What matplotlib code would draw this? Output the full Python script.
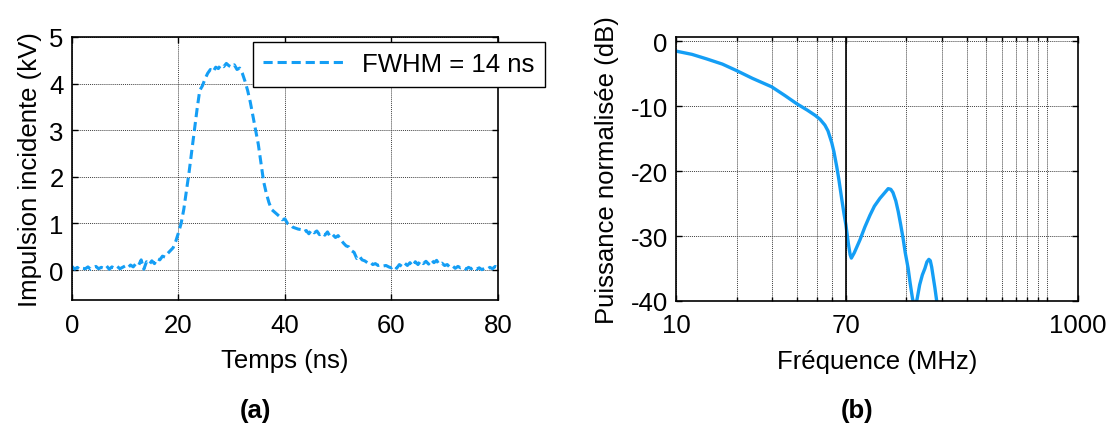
import numpy as np
import matplotlib.pyplot as plt

plt.rcParams['font.family'] = ['Liberation Sans', 'DejaVu Sans']
plt.rcParams['axes.unicode_minus'] = False

# --- (a) impulsion incidente, échantillons toutes les 0.5 ns ---
pulse_kv = [
    0.08, 0.02, 0.06, 0.01, 0.04, 0.03, 0.07, 0.02, 0.05, 0.08, 0.03,
    0.06, 0.04, 0.09, 0.02, 0.07, 0.04, 0.08, 0.03, 0.06, 0.09,
    0.05, 0.11, 0.07, 0.14, 0.10, 0.22, 0.02, 0.18, 0.12, 0.20,
    0.14, 0.25, 0.22, 0.30, 0.28, 0.36, 0.42, 0.48, 0.62, 0.80,
    1.00, 1.30, 1.70, 2.10, 2.55, 3.00, 3.45, 3.85, 3.95, 4.10,
    4.22, 4.30, 4.25, 4.35, 4.32, 4.40, 4.36, 4.43, 4.38, 4.35,
    4.40, 4.30, 4.33, 4.22, 4.05, 3.85, 3.60, 3.30, 3.00, 2.70,
    2.30, 1.90, 1.65, 1.45, 1.30, 1.25, 1.20, 1.15, 1.08, 1.10,
    1.00, 0.98, 0.92, 0.90, 0.88, 0.87, 0.82, 0.85, 0.78, 0.86,
    0.80, 0.84, 0.76, 0.80, 0.75, 0.82, 0.72, 0.76, 0.70, 0.74,
    0.65, 0.58, 0.52, 0.50, 0.42, 0.38, 0.25, 0.30, 0.22, 0.20,
    0.16, 0.18, 0.12, 0.14, 0.10, 0.12, 0.09, 0.10, 0.07, 0.05,
    0.10, 0.04, 0.12, 0.08, 0.15, 0.10, 0.16, 0.09, 0.18, 0.12,
    0.20, 0.14, 0.19, 0.13, 0.22, 0.16, 0.21, 0.12, 0.15, 0.10,
    0.12, 0.06, 0.09, 0.04, 0.08, 0.05, 0.07, 0.02, 0.06, 0.03,
    0.07, 0.02, 0.05, 0.01, 0.04, 0.02, 0.06, 0.03, 0.08, 0.05,
]
temps_ns = np.arange(len(pulse_kv)) * 0.5

# --- (b) spectre normalisé ---
freq_mhz = [10, 12, 14.2, 17, 20, 24, 29.9, 35, 39.8, 45, 49.2, 52, 55, 57,
            59.5, 61, 63, 64.5, 66.8, 68.5, 70, 72, 73.5, 74.5, 77, 82.2,
            87, 92.2, 97, 103.3, 108, 113.6, 117, 120, 124, 127.4, 131,
            134.8, 138, 142.8, 146, 150, 154, 158, 163, 168, 173, 177, 181,
            184, 187, 190, 194, 198, 202, 210]
puissance_db = [-1.5, -2.0, -2.7, -3.5, -4.5, -5.7, -7.0, -8.4, -9.6, -10.6,
                -11.4, -12.0, -12.9, -13.8, -15.6, -17.0, -19.3, -21.2,
                -24.4, -26.6, -28.3, -31.2, -32.9, -33.4, -32.6, -30.6,
                -28.6, -26.8, -25.4, -24.2, -23.5, -22.7, -22.8, -23.3,
                -24.6, -26.2, -28.2, -30.4, -32.5, -35.0, -37.2, -39.6,
                -41.0, -39.8, -37.5, -36.0, -35.0, -34.0, -33.6, -33.8,
                -34.8, -36.2, -38.0, -40.0, -41.5, -45.0]

blue = '#149ef5'
fs = 18.5
grid_kw = dict(color='0.25', linestyle=(0, (1, 1)), linewidth=0.7)

fig = plt.figure(figsize=(11.09, 4.35), dpi=100)

# ---------------- (a) ----------------
ax1 = fig.add_axes([0.0649, 0.308, 0.384, 0.605])
ax1.plot(temps_ns, pulse_kv, color=blue, lw=2.2, linestyle=(0, (3, 1.6)),
         label='FWHM = 14 ns')
ax1.set_xlim(0, 80)
ax1.set_ylim(-0.64, 5)
ax1.set_xticks([0, 20, 40, 60, 80])
ax1.set_yticks([0, 1, 2, 3, 4, 5])
ax1.grid(True, **grid_kw)
ax1.set_xlabel('Temps (ns)', fontsize=fs, labelpad=8)
ax1.set_ylabel('Impulsion incidente (kV)', fontsize=fs, labelpad=5)
ax1.tick_params(direction='in', top=True, right=True, length=4, width=1,
                labelsize=fs, pad=9)
ax1.tick_params(axis='y', pad=6)
leg = ax1.legend(loc='upper left', bbox_to_anchor=(0.228, 0.901),
                 bbox_transform=fig.transFigure, fontsize=fs, fancybox=False,
                 edgecolor='black', framealpha=1, handlelength=3.1,
                 handletextpad=0.75, borderpad=0.4, borderaxespad=0)
leg.get_frame().set_linewidth(1.0)
fig.text(0.23, 0.038, '(a)', fontsize=fs, fontweight='bold', ha='center')

# ---------------- (b) ----------------
ax2 = fig.add_axes([0.6096, 0.306, 0.3625, 0.607])
ax2.semilogx(freq_mhz, puissance_db, color=blue, lw=2.4)
ax2.set_xlim(10, 1000)
ax2.set_ylim(-40, 0.7)
ax2.set_xticks([10, 70, 1000])
ax2.set_xticklabels(['10', '70', '1000'])
ax2.set_xticks([20, 30, 40, 50, 60, 140, 210, 280, 350, 420, 490, 560, 630, 700],
               minor=True)
ax2.xaxis.set_minor_formatter(plt.NullFormatter())
ax2.set_yticks([-40, -30, -20, -10, 0])
ax2.grid(True, which='both', axis='x', **grid_kw)
ax2.grid(True, which='major', axis='y', **grid_kw)
ax2.axvline(70, color='black', lw=1.2)
ax2.set_xlabel('Fréquence (MHz)', fontsize=fs, labelpad=8)
ax2.set_ylabel('Puissance normalisée (dB)', fontsize=fs, labelpad=8)
ax2.tick_params(direction='in', top=True, right=True, length=4, width=1,
                labelsize=fs, pad=9)
ax2.tick_params(which='minor', direction='in', top=True, length=3, width=1)
ax2.tick_params(axis='y', pad=6)
fig.text(0.773, 0.038, '(b)', fontsize=fs, fontweight='bold', ha='center')

for ax in (ax1, ax2):
    for s in ax.spines.values():
        s.set_linewidth(1.2)

fig.savefig('out.png', dpi=100)
